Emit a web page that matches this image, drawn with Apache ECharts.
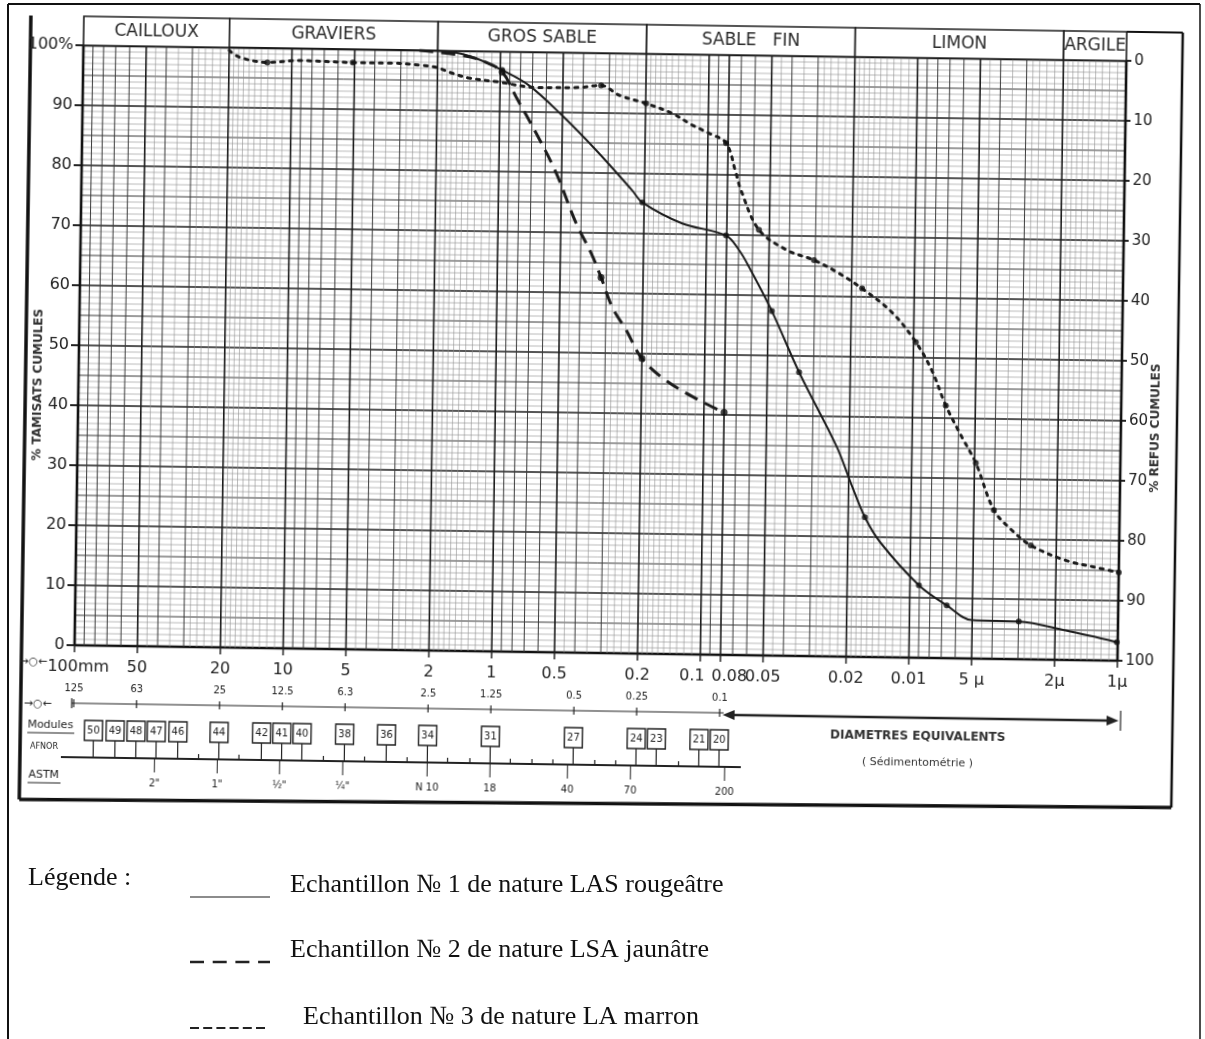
<!DOCTYPE html>
<html>
<head>
<meta charset="utf-8">
<script src="https://cdn.jsdelivr.net/npm/echarts/dist/echarts.min.js"></script>
<style>
  html, body { margin: 0; padding: 0; background: #fff; }
  #page  { position: absolute; left: 0; top: 0; width: 1205px; height: 1039px; }
  #sheet { position: absolute; left: 0; top: 0; width: 1205px; height: 840px;
           transform: rotate(0.85deg); transform-origin: 600px 350px; }
</style>
</head>
<body>
<div id="page"></div>
<div id="sheet"></div>
<script>
// ---- Grain-size curves: [diameter in mm, cumulative % passing] ----
const sample1 = [[20,100],[10,100],[5,100],[2.45,100],[1.71,99.8],[1.31,98.8],[0.98,96.9],[0.726,94.4],[0.502,89.5],[0.343,83.8],[0.229,77.2],[0.204,75.2],[0.131,71.8],[0.0807,69.9],[0.0697,67.5],[0.0622,64.7],[0.048,57.4],[0.0352,47.3],[0.0229,34.9],[0.0195,28.9],[0.01663,23.3],[0.01387,19.0],[0.00906,12.1],[0.00664,8.8],[0.00502,6.4],[0.00299,6.3],[0.00178,4.9],[0.00101,3.1]];
const marks1 = [[0.98,96.9],[0.204,75.2],[0.0807,69.9],[0.048,57.4],[0.0352,47.3],[0.01663,23.3],[0.00906,12.1],[0.00664,8.8],[0.00299,6.3],[0.00101,3.1]];

const sample2 = [[2.45,100],[1.5,99.2],[1.2,98.3],[0.98,96.6],[0.835,92.4],[0.667,86.5],[0.531,79.9],[0.423,71.6],[0.356,66.6],[0.318,62.6],[0.28,57.7],[0.239,53.9],[0.2,49.2],[0.153,45.6],[0.106,42.4],[0.08,40.4]];
const marks2 = [[0.98,96.6],[0.318,62.6],[0.2,49.2],[0.08,40.4]];

const sample3 = [[20,99.5],[17.8,98.4],[13.1,97.6],[9.2,98.0],[5.1,97.8],[3.4,97.8],[2.37,97.5],[2.03,97.2],[1.71,96.3],[1.41,95.5],[1.01,94.9],[0.67,94.1],[0.418,94.2],[0.328,94.6],[0.268,93.0],[0.199,91.7],[0.149,90.1],[0.119,88.2],[0.099,86.9],[0.0818,85.3],[0.073,80.3],[0.0689,77.5],[0.0561,70.9],[0.041,67.6],[0.0304,66.0],[0.0231,63.9],[0.0178,61.4],[0.01276,57.5],[0.00975,52.6],[0.00813,47.9],[0.00693,42.1],[0.00578,36.9],[0.00493,32.6],[0.00401,24.8],[0.00328,21.5],[0.00265,19.0],[0.0018,16.6],[0.00125,15.4],[0.001,14.7]];
const marks3 = [[13.1,97.6],[5.1,97.8],[0.328,94.6],[0.199,91.7],[0.0818,85.3],[0.0561,70.9],[0.0304,66.0],[0.0178,61.4],[0.00975,52.6],[0.00693,42.1],[0.00493,32.6],[0.00401,24.8],[0.00265,19.0],[0.001,14.7]];

const sampleNames = [
  'Echantillon № 1 de nature LAS rougeâtre',
  'Echantillon № 2 de nature LSA jaunâtre',
  'Echantillon № 3 de nature LA marron'
];

// ---- Soil classes (header band) ----
const classNames  = ['CAILLOUX', 'GRAVIERS', 'GROS SABLE', 'SABLE   FIN', 'LIMON', 'ARGILE'];
const classBounds = [100, 20, 2, 0.2, 0.02, 0.002, 0.001];

// ---- Diameter scale (mm) ----
const sizeTicks  = [100, 50, 20, 10, 5, 2, 1, 0.5, 0.2, 0.1, 0.08, 0.05, 0.02, 0.01, 0.005, 0.002, 0.001];
const sizeLabels = ['100mm', '50', '20', '10', '5', '2', '1', '0.5', '0.2', '0.1', '0.08', '0.05', '0.02', '0.01', '5 µ', '2µ', '1µ'];

// ---- Round-hole sieves and their square-mesh equivalent ----
const sievePos    = [100, 50, 20, 10, 5, 2, 1, 0.4, 0.2, 0.08];
const sieveLabels = ['125', '63', '25', '12.5', '6.3', '2.5', '1.25', '0.5', '0.25', '0.1'];

// ---- AFNOR modules: number and mesh opening (mm) ----
const moduleNums  = [50, 49, 48, 47, 46, 45, 44, 43, 42, 41, 40, 39, 38, 37, 36, 35, 34, 33, 32, 31, 30, 29, 28, 27, 26, 25, 24, 23, 22, 21, 20];
const moduleSizes = [80, 63, 50, 40, 31.5, 25, 20, 16, 12.5, 10, 8, 6.3, 5, 4, 3.15, 2.5, 2, 1.6, 1.25, 1, 0.8, 0.63, 0.5, 0.4, 0.315, 0.25, 0.2, 0.16, 0.125, 0.1, 0.08];
const moduleBoxed = [50, 49, 48, 47, 46, 44, 42, 41, 40, 38, 36, 34, 31, 27, 24, 23, 21, 20];

// ---- ASTM sieves ----
const astmPos    = [40.6, 20.3, 10.2, 5.08, 2.0, 1.0, 0.425, 0.212, 0.075];
const astmLabels = ['2"', '1"', '½"', '¼"', 'N 10', '18', '40', '70', '200'];

// ---- Styling ----
const FONT = '"DejaVu Sans", "Liberation Sans", sans-serif';
const SERIF = '"Liberation Serif", "DejaVu Serif", serif';
const INK = '#222';
const lineStyles = [
  { color: '#1c1c1c', width: 2, type: 'solid' },
  { color: '#1c1c1c', width: 3, type: [14, 8] },
  { color: '#1c1c1c', width: 3, type: [3, 6], cap: 'round' }
];
// small horizontal nudges for crowded size labels
const labelNudge = { '100mm': 4, '0.1': -8, '0.08': 9 };

// rows of the scale block, measured down from the 0 % line
const ROW_SIZE = 22, ROW_SIEVE = 43, ROW_LINE = 58, ROW_MOD = 85, ROW_AFNOR = 112, ROW_ASTM = 137;

// log-paper grid (mantissas per decade)
const vGrid = [];
const fineM = [1.1, 1.2, 1.3, 1.4, 1.5, 1.6, 1.7, 1.8, 1.9, 2.2, 2.4, 2.6, 2.8, 3.5, 4.5];
const midM = [3, 4, 6, 7, 8, 9];
const majM = [1, 2, 5];
for (let e = -3; e < 2; e++) {
  const p = Math.pow(10, e);
  fineM.forEach(m => vGrid.push([+(m * p).toPrecision(6), 0, 0.5]));
  midM.forEach(m => vGrid.push([+(m * p).toPrecision(6), 0, (e === -2 && m === 8) ? 2 : 1]));
  majM.forEach(m => vGrid.push([+(m * p).toPrecision(6), 0, (e === -3 && m === 1) ? 3 : 2]));
}
vGrid.push([100, 0, 3]);

const hGrid = [];
for (let v = 0; v <= 100; v++) {
  hGrid.push([1, v, (v === 0 || v === 100) ? 3 : (v % 10 === 0 ? 2 : (v % 5 === 0 ? 1 : 0.5))]);
}

function strokeFor(w) {
  if (w >= 3) return { stroke: '#111', lineWidth: 2.6 };
  if (w >= 2) return { stroke: '#1c1c1c', lineWidth: 1.6 };
  if (w >= 1) return { stroke: '#3a3a3a', lineWidth: 1 };
  return { stroke: '#8e8e8e', lineWidth: 0.6 };
}
function txt(x, y, text, size, extra) {
  return { type: 'text', x: x, y: y, style: Object.assign({
    text: text, fontSize: size, fontFamily: FONT, fill: INK, align: 'center', verticalAlign: 'middle'
  }, extra || {}) };
}

const sheet = echarts.init(document.getElementById('sheet'));
sheet.setOption({
  animation: false,
  grid: { left: 79, right: 83, top: 53, bottom: 187 },
  xAxis: { type: 'log', logBase: 10, min: 0.001, max: 100, inverse: true, show: false },
  yAxis: [
    {
      type: 'value', min: 0, max: 100, interval: 10, position: 'left',
      axisLine: { show: false },
      axisTick: { show: true, length: 8, lineStyle: { color: INK, width: 2 } },
      axisLabel: { margin: 10, fontSize: 16, color: INK, fontFamily: FONT,
                   formatter: v => v === 100 ? '100%' : String(v) },
      splitLine: { show: false }
    },
    {
      type: 'value', min: 0, max: 100, interval: 10, position: 'right', inverse: true,
      axisLine: { show: false },
      axisTick: { show: true, length: 5, lineStyle: { color: INK, width: 2 } },
      axisLabel: { margin: 8, fontSize: 15, color: INK, fontFamily: FONT },
      splitLine: { show: false }
    }
  ],
  graphic: [
    // sheet frame
    { type: 'line', shape: { x1: 26, y1: 24, x2: 26, y2: 808 }, style: { stroke: '#111', lineWidth: 3.5 } },
    { type: 'line', shape: { x1: 26, y1: 808, x2: 1178, y2: 799 }, style: { stroke: '#111', lineWidth: 3.5 } },
    { type: 'line', shape: { x1: 1178, y1: 24, x2: 1178, y2: 799 }, style: { stroke: '#111', lineWidth: 2.5 } },
    { type: 'line', shape: { x1: 1122, y1: 24, x2: 1178, y2: 24 }, style: { stroke: '#111', lineWidth: 2 } },
    // axis titles
    { type: 'text', x: 39, y: 393, rotation: Math.PI / 2,
      style: { text: '% TAMISATS CUMULES', fontSize: 12, fontWeight: 'bold', fontFamily: FONT, fill: '#333', align: 'center', verticalAlign: 'middle' } },
    { type: 'text', x: 1157, y: 420, rotation: Math.PI / 2,
      style: { text: '% REFUS CUMULES', fontSize: 12, fontWeight: 'bold', fontFamily: FONT, fill: '#333', align: 'center', verticalAlign: 'middle' } },
    // row captions on the left
    txt(38, 670, '→○←', 11),
    txt(43, 712, '→○←', 11),
    txt(56, 733, 'Modules', 11),
    { type: 'line', shape: { x1: 33, y1: 741, x2: 80, y2: 741 }, style: { stroke: INK, lineWidth: 1 } },
    txt(50, 755, 'AFNOR', 8),
    txt(50, 783, 'ASTM', 11),
    { type: 'line', shape: { x1: 34, y1: 791, x2: 67, y2: 791 }, style: { stroke: INK, lineWidth: 1 } }
  ],
  series: [
    // horizontal grid
    {
      type: 'custom', silent: true, z: 1, encode: { x: 0, y: 1 }, data: hGrid,
      renderItem: (params, api) => {
        const v = api.value(1), w = api.value(2);
        const a = api.coord([100, v]), b = api.coord([0.001, v]);
        return { type: 'line', shape: { x1: a[0], y1: a[1], x2: b[0], y2: b[1] }, style: strokeFor(w) };
      }
    },
    // vertical log grid
    {
      type: 'custom', silent: true, z: 1, encode: { x: 0, y: 1 }, data: vGrid,
      renderItem: (params, api) => {
        const d = api.value(0), w = api.value(2);
        const a = api.coord([d, 0]), b = api.coord([d, 100]);
        return { type: 'line', shape: { x1: a[0], y1: a[1], x2: b[0], y2: b[1] }, style: strokeFor(w) };
      }
    },
    // soil-class header band
    {
      type: 'custom', silent: true, z: 2, encode: { x: 0, y: 1 },
      data: classNames.map((n, i) => [classBounds[i], 100, i]),
      renderItem: (params, api) => {
        const i = api.value(2);
        const p = api.coord([classBounds[i], 100]), q = api.coord([classBounds[i + 1], 100]);
        const h = 29;
        return { type: 'group', children: [
          { type: 'rect', shape: { x: p[0], y: p[1] - h, width: q[0] - p[0], height: h },
            style: { fill: '#fff', stroke: '#1c1c1c', lineWidth: 1.6 } },
          txt((p[0] + q[0]) / 2, p[1] - h / 2, classNames[i], 17, { fill: '#2a2a2a' })
        ] };
      }
    },
    // diameter labels under the plot
    {
      type: 'custom', silent: true, z: 2, encode: { x: 0, y: 1 },
      data: sizeTicks.map((d, i) => [d, 0, i]),
      renderItem: (params, api) => {
        const i = api.value(2);
        const p = api.coord([api.value(0), 0]);
        const nudge = labelNudge[sizeLabels[i]] || 0;
        return { type: 'group', children: [
          { type: 'line', shape: { x1: p[0], y1: p[1], x2: p[0], y2: p[1] + 7 }, style: { stroke: INK, lineWidth: 1.5 } },
          txt(p[0] + nudge, p[1] + ROW_SIZE, sizeLabels[i], 16)
        ] };
      }
    },
    // round-hole sieve labels and ticks
    {
      type: 'custom', silent: true, z: 2, encode: { x: 0, y: 1 },
      data: sievePos.map((d, i) => [d, 0, i]),
      renderItem: (params, api) => {
        const i = api.value(2);
        const p = api.coord([api.value(0), 0]);
        const yr = p[1] + ROW_LINE;
        return { type: 'group', children: [
          { type: 'line', shape: { x1: p[0], y1: yr - 4, x2: p[0], y2: yr + 4 }, style: { stroke: INK, lineWidth: 1.2 } },
          txt(p[0], p[1] + ROW_SIEVE, sieveLabels[i], 10)
        ] };
      }
    },
    // scale lines, arrows and sedimentometry caption
    {
      type: 'custom', silent: true, z: 2, encode: { x: 0, y: 1 }, data: [[100, 0]],
      renderItem: (params, api) => {
        const a = api.coord([100, 0]);
        const xa = a[0], y0 = a[1];
        const xb = api.coord([0.08, 0])[0], xc = api.coord([0.001, 0])[0];
        const yr = y0 + ROW_LINE, ya = y0 + ROW_AFNOR;
        return { type: 'group', children: [
          { type: 'line', shape: { x1: xa - 2, y1: yr, x2: xb + 4, y2: yr }, style: { stroke: INK, lineWidth: 1.2 } },
          { type: 'line', shape: { x1: xa - 2, y1: yr - 5, x2: xa - 2, y2: yr + 5 }, style: { stroke: INK, lineWidth: 1.2 } },
          { type: 'line', shape: { x1: xb + 10, y1: yr + 2, x2: xc - 6, y2: yr + 2 }, style: { stroke: INK, lineWidth: 2.4 } },
          { type: 'polygon', shape: { points: [[xb + 3, yr + 2], [xb + 15, yr - 3], [xb + 15, yr + 7]] }, style: { fill: INK } },
          { type: 'polygon', shape: { points: [[xc + 2, yr + 2], [xc - 10, yr - 3], [xc - 10, yr + 7]] }, style: { fill: INK } },
          { type: 'line', shape: { x1: xc + 4, y1: yr - 8, x2: xc + 4, y2: yr + 12 }, style: { stroke: INK, lineWidth: 1.2 } },
          { type: 'line', shape: { x1: xa - 12, y1: ya, x2: xb + 22, y2: ya }, style: { stroke: INK, lineWidth: 2 } },
          txt((xb + xc) / 2, y0 + 79, 'DIAMETRES EQUIVALENTS', 12, { fontWeight: 'bold', fill: '#333' }),
          txt((xb + xc) / 2, y0 + 105, '( Sédimentométrie )', 11, { fill: '#333' })
        ] };
      }
    },
    // AFNOR modules
    {
      type: 'custom', silent: true, z: 2, encode: { x: 0, y: 1 },
      data: moduleSizes.map((d, i) => [d, 0, moduleNums[i]]),
      renderItem: (params, api) => {
        const n = api.value(2);
        const p = api.coord([api.value(0), 0]);
        const yb = p[1] + ROW_MOD, ya = p[1] + ROW_AFNOR;
        if (moduleBoxed.indexOf(n) < 0) {
          return { type: 'line', shape: { x1: p[0], y1: ya - 5, x2: p[0], y2: ya }, style: { stroke: INK, lineWidth: 1.2 } };
        }
        return { type: 'group', children: [
          { type: 'rect', shape: { x: p[0] - 9, y: yb - 10, width: 18, height: 20 },
            style: { fill: '#fff', stroke: INK, lineWidth: 1.4 } },
          txt(p[0], yb, String(n), 10),
          { type: 'line', shape: { x1: p[0], y1: yb + 10, x2: p[0], y2: ya }, style: { stroke: INK, lineWidth: 1.2 } }
        ] };
      }
    },
    // ASTM sieves
    {
      type: 'custom', silent: true, z: 2, encode: { x: 0, y: 1 },
      data: astmPos.map((d, i) => [d, 0, i]),
      renderItem: (params, api) => {
        const i = api.value(2);
        const p = api.coord([api.value(0), 0]);
        const ya = p[1] + ROW_AFNOR;
        return { type: 'group', children: [
          { type: 'line', shape: { x1: p[0], y1: ya, x2: p[0], y2: ya + 14 }, style: { stroke: INK, lineWidth: 1 } },
          txt(p[0], p[1] + ROW_ASTM, astmLabels[i], 10)
        ] };
      }
    },
    // grading curves
    { name: sampleNames[0], type: 'line', data: sample1, z: 5, symbol: 'none', smooth: 0.35, lineStyle: lineStyles[0] },
    { name: sampleNames[1], type: 'line', data: sample2, z: 5, symbol: 'none', smooth: 0.35, lineStyle: lineStyles[1] },
    { name: sampleNames[2], type: 'line', data: sample3, z: 5, symbol: 'none', smooth: 0.35, lineStyle: lineStyles[2] },
    { type: 'scatter', data: marks1, z: 6, symbolSize: 6, itemStyle: { color: '#111' }, silent: true },
    { type: 'scatter', data: marks2, z: 6, symbolSize: 7, itemStyle: { color: '#111' }, silent: true },
    { type: 'scatter', data: marks3, z: 6, symbolSize: 6, itemStyle: { color: '#111' }, silent: true }
  ]
});

// ---- Page border and legend ----
const legendY = [885, 950, 1017];
const legendTextX = [290, 290, 303];
const legendLine = [
  { x1: 190, x2: 270, y: 897, stroke: '#666', lineWidth: 1.5, lineDash: null },
  { x1: 190, x2: 270, y: 962, stroke: '#222', lineWidth: 2.5, lineDash: [14, 8.7] },
  { x1: 190, x2: 265, y: 1028, stroke: '#222', lineWidth: 2, lineDash: [9, 4.2] }
];
const page = echarts.init(document.getElementById('page'));
const pageGraphics = [
  { type: 'line', shape: { x1: 8, y1: 4, x2: 1200, y2: 4 }, style: { stroke: '#111', lineWidth: 2 } },
  { type: 'line', shape: { x1: 8, y1: 4, x2: 8, y2: 1039 }, style: { stroke: '#111', lineWidth: 2 } },
  { type: 'line', shape: { x1: 1200, y1: 4, x2: 1200, y2: 1039 }, style: { stroke: '#111', lineWidth: 1.5 } },
  { type: 'text', x: 28, y: 878, style: { text: 'Légende :', fontSize: 26, fontFamily: SERIF, fill: '#111', verticalAlign: 'middle' } }
];
sampleNames.forEach((name, i) => {
  const L = legendLine[i];
  pageGraphics.push({ type: 'line', shape: { x1: L.x1, y1: L.y, x2: L.x2, y2: L.y },
    style: { stroke: L.stroke, lineWidth: L.lineWidth, lineDash: L.lineDash } });
  pageGraphics.push({ type: 'text', x: legendTextX[i], y: legendY[i],
    style: { text: name, fontSize: 26, fontFamily: SERIF, fill: '#111', verticalAlign: 'middle' } });
});
page.setOption({ animation: false, graphic: pageGraphics });
</script>
</body>
</html>
